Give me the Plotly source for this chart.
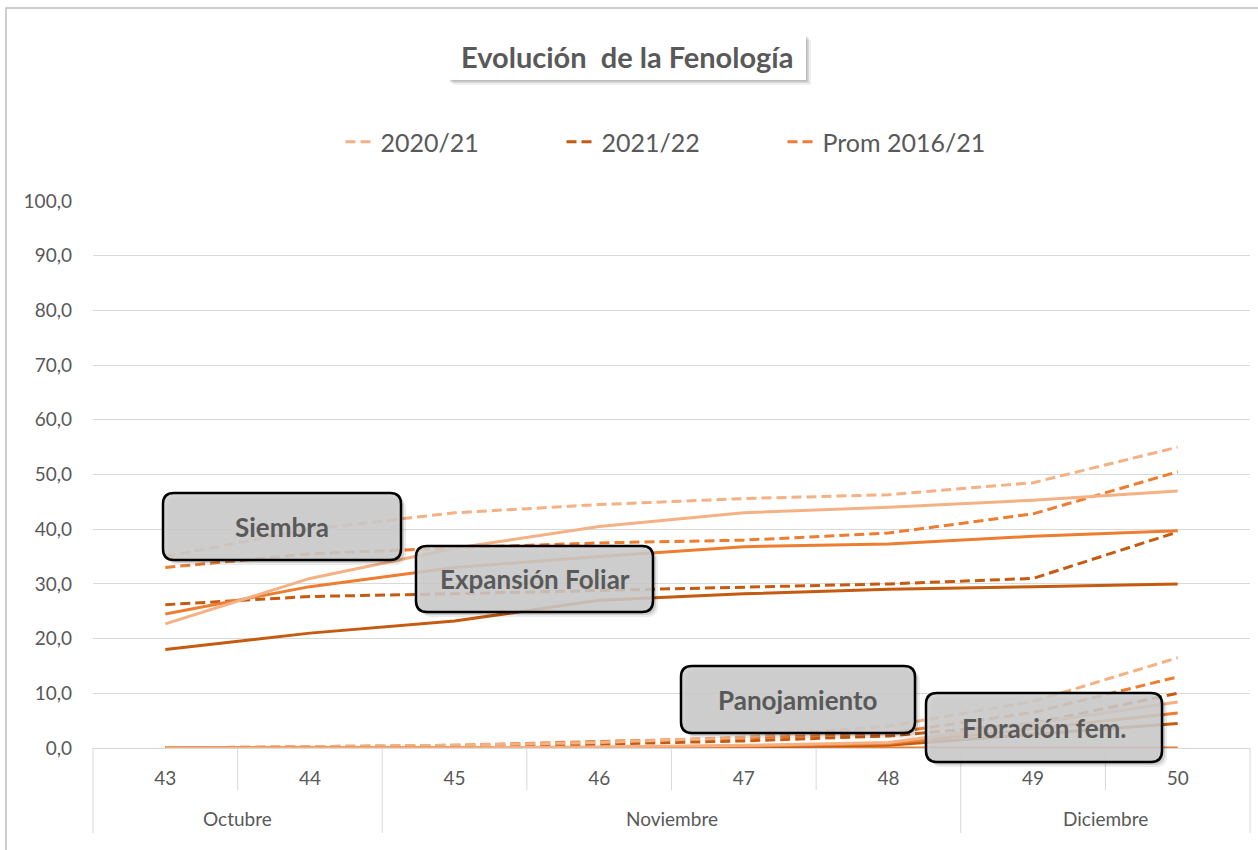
import plotly.graph_objects as go

# ---------------- data ----------------
weeks = ["43", "44", "45", "46", "47", "48", "49", "50"]
months = ["Octubre", "Octubre", "Noviembre", "Noviembre", "Noviembre", "Noviembre", "Diciembre", "Diciembre"]
seasons = ["2020/21", "2021/22", "Prom 2016/21"]
season_colors = ["#F4B183", "#C55A11", "#ED7D31"]

# Siembra (dashed)
siembra_2020 = [35.0, 40.0, 43.0, 44.5, 45.6, 46.3, 48.5, 55.0]
siembra_2021 = [26.2, 27.7, 28.2, 28.8, 29.3, 30.0, 31.0, 39.5]
siembra_prom = [33.0, 35.5, 36.6, 37.5, 38.0, 39.3, 42.8, 50.5]
# Expansión Foliar (solid)
expansion_2020 = [22.7, 31.0, 36.5, 40.5, 43.0, 44.0, 45.3, 47.0]
expansion_2021 = [18.0, 21.0, 23.2, 27.0, 28.2, 29.0, 29.5, 30.0]
expansion_prom = [24.5, 29.5, 33.0, 35.0, 36.8, 37.3, 38.7, 39.7]
# Panojamiento (dashed)
panoja_2020 = [0.0, 0.2, 0.5, 1.0, 2.0, 4.0, 8.5, 16.5]
panoja_2021 = [0.0, 0.0, 0.3, 0.7, 1.3, 2.2, 4.5, 10.0]
panoja_prom = [0.0, 0.2, 0.5, 1.2, 1.8, 2.7, 6.5, 13.0]
# Floración fem. (solid)
floracion_2020 = [0.0, 0.0, 0.0, 0.2, 0.5, 1.0, 4.5, 8.4]
floracion_2021 = [0.0, 0.0, 0.0, 0.0, 0.2, 0.5, 2.5, 4.5]
floracion_prom = [0.0, 0.0, 0.0, 0.1, 0.3, 0.8, 3.5, 6.4]
otra_prom = [0.0, 0.0, 0.0, 0.0, 0.0, 0.0, 0.0, 0.0]

y_ticks = [0, 10, 20, 30, 40, 50, 60, 70, 80, 90, 100]
stage_labels = ["Siembra", "Expansión Foliar", "Panojamiento", "Floración fem."]

# ---------------- layout helpers (pixel geometry) ----------------
W, H = 1258, 850
PL, PR, PT, PB = 93, 1250, 201, 748   # plot area in pixels
TEXT = "#595959"
GRID = "#D9D9D9"


def xp(px):
    return (px - PL) / (PR - PL)


def yp(py):
    return (PB - py) / (PB - PT)


def rounded_path(x0, y0, x1, y1, r=11):
    pts = [
        ("M", [(x0 + r, y0)]),
        ("L", [(x1 - r, y0)]),
        ("Q", [(x1, y0), (x1, y0 + r)]),
        ("L", [(x1, y1 - r)]),
        ("Q", [(x1, y1), (x1 - r, y1)]),
        ("L", [(x0 + r, y1)]),
        ("Q", [(x0, y1), (x0, y1 - r)]),
        ("L", [(x0, y0 + r)]),
        ("Q", [(x0, y0), (x0 + r, y0)]),
    ]
    s = ""
    for cmd, ps in pts:
        s += cmd + " " + " ".join(f"{xp(a):.5f},{yp(b):.5f}" for a, b in ps) + " "
    return s + "Z"


DASH = "10px,5px"
LW = 3

fig = go.Figure()

series = [
    (siembra_2020, 0, DASH, True),
    (siembra_2021, 1, DASH, True),
    (siembra_prom, 2, DASH, True),
    (expansion_2021, 1, "solid", False),
    (expansion_prom, 2, "solid", False),
    (expansion_2020, 0, "solid", False),
    (panoja_2021, 1, DASH, False),
    (panoja_prom, 2, DASH, False),
    (panoja_2020, 0, DASH, False),
    (otra_prom, 2, "solid", False),
    (floracion_2021, 1, "solid", False),
    (floracion_prom, 2, "solid", False),
    (floracion_2020, 0, "solid", False),
]
for vals, si, dash, show in series:
    fig.add_trace(go.Scatter(
        x=weeks, y=vals, mode="lines",
        name=seasons[si], legendgroup=seasons[si], showlegend=show,
        line=dict(color=season_colors[si], width=LW, dash=dash),
        hoverinfo="skip",
    ))

shapes = []
annotations = []

# chart outer border
shapes.append(dict(type="rect", xref="paper", yref="paper",
                   x0=xp(6), x1=xp(1275), y0=yp(8), y1=yp(870),
                   line=dict(color="#BFBFBF", width=1.5), fillcolor="rgba(0,0,0,0)", layer="below"))

# category separators below the axis (weeks short, months long)
n = len(weeks)
for k in range(n + 1):
    month_edge = k == 0 or k == n or months[k] != months[k - 1]
    y_end = 833 if month_edge else 790
    shapes.append(dict(type="line", xref="paper", yref="paper",
                       x0=k / n, x1=k / n, y0=0, y1=yp(y_end),
                       line=dict(color=GRID, width=1), layer="below"))

# month labels
start = 0
for k in range(1, n + 1):
    if k == n or months[k] != months[start]:
        annotations.append(dict(xref="paper", yref="paper", x=(start + k) / 2 / n, y=yp(818),
                                text=months[start], showarrow=False,
                                font=dict(family="Lato", size=19, color=TEXT),
                                xanchor="center", yanchor="middle"))
        start = k

# title box with shadow
for off, a in ((5, 0.06), (3, 0.10), (1.5, 0.12)):
    shapes.append(dict(type="rect", xref="paper", yref="paper",
                       x0=xp(448 + off), x1=xp(806 + off), y0=yp(35 + off), y1=yp(80 + off),
                       line=dict(width=0), fillcolor=f"rgba(0,0,0,{a})", layer="above"))
shapes.append(dict(type="rect", xref="paper", yref="paper",
                   x0=xp(448), x1=xp(806), y0=yp(35), y1=yp(80),
                   line=dict(width=0), fillcolor="white", layer="above"))
annotations.append(dict(xref="paper", yref="paper", x=xp(627), y=yp(57),
                        text="<b>Evolución\u00a0 de la Fenología</b>", showarrow=False,
                        font=dict(family="Lato", size=29, color=TEXT),
                        xanchor="center", yanchor="middle"))

# stage label boxes
boxes = [
    (163, 493, 401, 560),
    (416, 546, 653, 612),
    (681, 666, 915, 733),
    (926, 693, 1162, 762),
]
for (x0, y0, x1, y1), label in zip(boxes, stage_labels):
    for off, a in ((5, 0.08), (3, 0.12)):
        shapes.append(dict(type="path", xref="paper", yref="paper",
                           path=rounded_path(x0 + off, y0 + off, x1 + off, y1 + off),
                           line=dict(width=0), fillcolor=f"rgba(0,0,0,{a})", layer="above"))
    shapes.append(dict(type="path", xref="paper", yref="paper",
                       path=rounded_path(x0, y0, x1, y1),
                       line=dict(color="#000000", width=2.5),
                       fillcolor="rgba(205,205,205,0.86)", layer="above"))
    annotations.append(dict(xref="paper", yref="paper", x=xp((x0 + x1) / 2), y=yp((y0 + y1) / 2),
                            text=f"<b>{label}</b>", showarrow=False,
                            font=dict(family="Lato", size=26, color=TEXT),
                            xanchor="center", yanchor="middle"))

fig.update_layout(
    width=W, height=H,
    margin=dict(l=PL, r=W - PR, t=PT, b=H - PB, pad=0),
    paper_bgcolor="white", plot_bgcolor="white",
    separators=",.",
    font=dict(family="Lato", color=TEXT),
    showlegend=True,
    legend=dict(orientation="h", x=xp(672), xanchor="center", y=yp(142), yanchor="middle",
                font=dict(size=25, color=TEXT), bgcolor="rgba(0,0,0,0)",
                entrywidth=176, entrywidthmode="pixels"),
    shapes=shapes,
    annotations=annotations,
    xaxis=dict(
        type="category", range=[-0.5, n - 0.5],
        showgrid=False, zeroline=False,
        showline=True, linecolor=GRID, linewidth=1,
        ticks="", ticklabelstandoff=13,
        tickfont=dict(family="Lato", size=19, color=TEXT),
    ),
    yaxis=dict(
        range=[0, 100], tickvals=y_ticks, tickformat=".1f",
        showgrid=True, gridcolor=GRID, gridwidth=1,
        zeroline=False, showline=False, ticks="",
        tickfont=dict(family="Lato", size=19, color=TEXT),
        ticklabelstandoff=20,
    ),
)

fig.write_html("out.html", config={"displayModeBar": False},
               post_script="document.body.style.margin='0';document.body.style.overflow='hidden';")
